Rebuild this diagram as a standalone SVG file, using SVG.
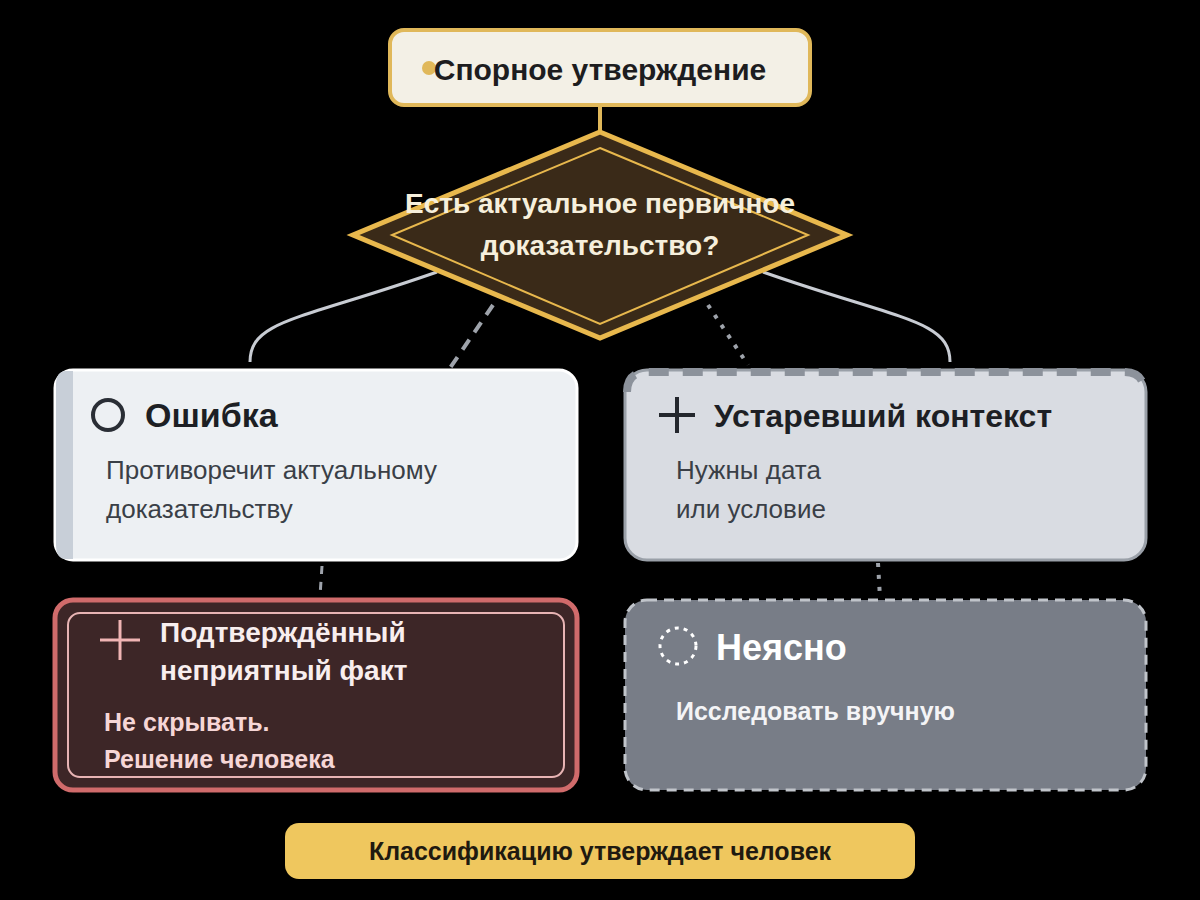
<svg xmlns="http://www.w3.org/2000/svg" width="1200" height="900" viewBox="0 0 1200 900">
<style>
text{font-family:"Liberation Sans",Arial,sans-serif}
.b{font-weight:bold}
.conn{fill:none;stroke:#c8ccd3;stroke-width:3}
</style>
<rect width="1200" height="900" fill="#000"/>
<g id="connectors">
<line x1="600" y1="105" x2="600" y2="134" stroke="#e0b85a" stroke-width="4"/>
<path class="conn" d="M437,272 C300,320 250,320 250,362"/>
<path class="conn" d="M763,272 C900,320 950,320 950,362"/>
<line x1="493" y1="305" x2="450" y2="368" stroke="#9ea3ab" stroke-width="4" stroke-dasharray="12 9"/>
<line x1="708" y1="305" x2="748" y2="365" stroke="#9ea3ab" stroke-width="4" stroke-dasharray="4 8"/>
<line x1="322" y1="566" x2="320" y2="596" stroke="#9ea3ab" stroke-width="3" stroke-dasharray="8 8"/>
<line x1="878" y1="563" x2="880" y2="598" stroke="#9ea3ab" stroke-width="4" stroke-dasharray="4 8"/>
</g>
<g id="claim">
<rect x="390" y="30" width="420" height="75" rx="14" fill="#f3f0e6" stroke="#e0b85a" stroke-width="4"/>
<circle cx="429" cy="68" r="7" fill="#e0b85a"/>
<text x="600" y="80" class="b" font-size="30" text-anchor="middle" fill="#1d1d1f">Спорное утверждение</text>
</g>
<g id="decision">
<polygon points="600,132 847,235 600,338 353,235" fill="#3a2a18" stroke="#e8b84d" stroke-width="5"/>
<polygon points="600,148 808,235 600,324 392,235" fill="none" stroke="#e8b84d" stroke-width="2"/>
<text x="600" y="213" class="b" font-size="28" text-anchor="middle" fill="#f6efdc">Есть актуальное первичное</text>
<text x="600" y="255" class="b" font-size="28" text-anchor="middle" fill="#f6efdc">доказательство?</text>
</g>
<g id="error">
<rect x="55" y="370" width="522" height="190" rx="18" fill="#edf0f3" stroke="#fff" stroke-width="3"/>
<path d="M73,371 L73,559 L66,559 Q56,559 56,545 L56,385 Q56,371 66,371 Z" fill="#c8cfd8"/>
<circle cx="108" cy="415" r="15" fill="none" stroke="#2a2e35" stroke-width="4"/>
<text x="145" y="427" class="b" font-size="34" fill="#1d1f24">Ошибка</text>
<text x="106" y="479" font-size="26" fill="#3a3f47">Противоречит актуальному</text>
<text x="106" y="518" font-size="26" fill="#3a3f47">доказательству</text>
</g>
<g id="outdated">
<rect x="625" y="370" width="521" height="190" rx="22" fill="#d9dce2" stroke="#9aa0a8" stroke-width="3"/>
<path d="M627,392 Q627,372 647,372 L1124,372 Q1144,372 1144,392" fill="none" stroke="#8c929b" stroke-width="8" stroke-dasharray="20 14"/>
<path d="M659,415 H695 M677,397 V433" stroke="#24272d" stroke-width="4"/>
<text x="714" y="427" class="b" font-size="32" fill="#1d1f24">Устаревший контекст</text>
<text x="676" y="479" font-size="26" fill="#3a3f47">Нужны дата</text>
<text x="676" y="518" font-size="26" fill="#3a3f47">или условие</text>
</g>
<g id="fact">
<rect x="55" y="600" width="522" height="190" rx="18" fill="#3d2627" stroke="#d06b6b" stroke-width="5"/>
<rect x="68" y="613" width="496" height="164" rx="12" fill="none" stroke="#e8b4b4" stroke-width="2"/>
<path d="M100,640 H140 M120,620 V660" stroke="#f0b4b4" stroke-width="3"/>
<text x="160" y="642" class="b" font-size="28" fill="#f8eeee">Подтверждённый</text>
<text x="160" y="680" class="b" font-size="28" fill="#f8eeee">неприятный факт</text>
<text x="104" y="731" class="b" font-size="25" fill="#f6d6d6">Не скрывать.</text>
<text x="104" y="768" class="b" font-size="25" fill="#f6d6d6">Решение человека</text>
</g>
<g id="unclear">
<rect x="625" y="600" width="521" height="190" rx="22" fill="#787d87" stroke="#c0c4ca" stroke-width="3" stroke-dasharray="10 7"/>
<circle cx="678" cy="646" r="18" fill="none" stroke="#fff" stroke-width="3" stroke-dasharray="4 5"/>
<text x="716" y="660" class="b" font-size="36" fill="#fff">Неясно</text>
<text x="676" y="720" class="b" font-size="25" fill="#f4f4f6">Исследовать вручную</text>
</g>
<g id="note">
<rect x="285" y="823" width="630" height="56" rx="14" fill="#efc75e"/>
<text x="600" y="860" class="b" font-size="25" text-anchor="middle" fill="#1f1a10">Классификацию утверждает человек</text>
</g>
</svg>
